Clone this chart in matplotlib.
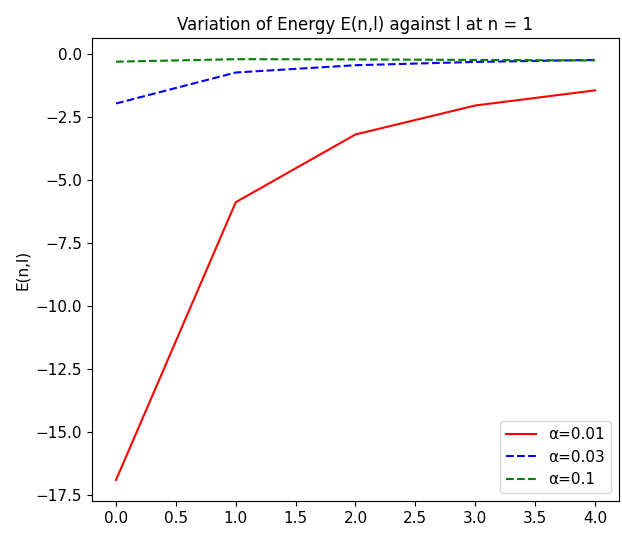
import matplotlib
matplotlib.use("Agg")
import matplotlib.pyplot as plt

l = [0, 1, 2, 3, 4]
E_001 = [-16.9, -5.87, -3.18, -2.03, -1.43]
E_003 = [-1.95, -0.72, -0.43, -0.30, -0.22]
E_01 = [-0.29, -0.19, -0.20, -0.22, -0.24]

plt.figure(figsize=(6.22, 5.37), dpi=100)
plt.plot(l, E_001, "r", label="α=0.01")
plt.plot(l, E_003, "b--", label="α=0.03")
plt.plot(l, E_01, "g--", label="α=0.1")
plt.title("Variation of Energy E(n,l) against l at n = 1", fontsize=12)
plt.ylabel("E(n,l)", fontsize=11)
plt.xticks(fontsize=11)
plt.yticks(fontsize=11)
plt.legend(loc="lower right", fontsize=11)
plt.subplots_adjust(left=0.148, right=0.995, top=0.929, bottom=0.067)
plt.savefig("out.png")
